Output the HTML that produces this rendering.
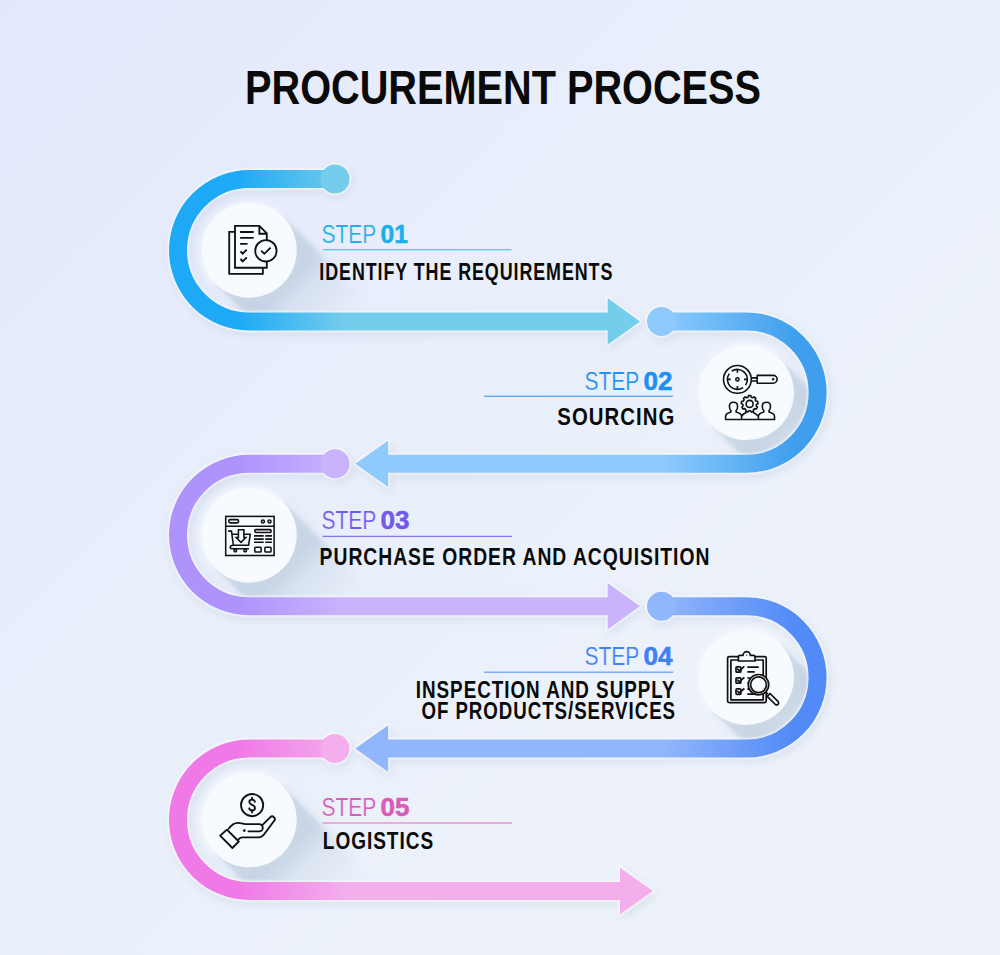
<!DOCTYPE html>
<html><head><meta charset="utf-8"><title>Procurement Process</title>
<style>html,body{margin:0;padding:0;width:1000px;height:955px;overflow:hidden;background:#e8eefb}
svg{display:block;font-family:"Liberation Sans",sans-serif}</style></head>
<body>
<svg width="1000" height="955" viewBox="0 0 1000 955"><defs><filter id="pds" x="-20%" y="-20%" width="140%" height="140%"><feGaussianBlur stdDeviation="4"/></filter><filter id="glow2" x="-20%" y="-20%" width="140%" height="140%"><feGaussianBlur stdDeviation="1"/></filter><filter id="blur1" x="-20%" y="-20%" width="140%" height="140%"><feGaussianBlur stdDeviation="0.8"/></filter><filter id="glow" x="-20%" y="-20%" width="140%" height="140%"><feGaussianBlur stdDeviation="2.5"/></filter><filter id="blur" x="-20%" y="-20%" width="140%" height="140%"><feGaussianBlur stdDeviation="4"/></filter><linearGradient id="bg" gradientUnits="userSpaceOnUse" x1="0" y1="0" x2="720" y2="720"><stop offset="0" stop-color="#e3e9fd"/><stop offset="0.6" stop-color="#e9effa"/><stop offset="1" stop-color="#edf2fa"/></linearGradient><linearGradient id="sh0_0" gradientUnits="userSpaceOnUse" x1="249.2" y1="250.2" x2="298.3" y2="299.3"><stop offset="0" stop-color="#afc2d7" stop-opacity="0.3"/><stop offset="0.683" stop-color="#afc2d7" stop-opacity="0.3"/><stop offset="1" stop-color="#afc2d7" stop-opacity="0"/></linearGradient><linearGradient id="sh0_1" gradientUnits="userSpaceOnUse" x1="249.2" y1="250.2" x2="332.3" y2="333.3"><stop offset="0" stop-color="#afc2d7" stop-opacity="0.42"/><stop offset="0.404" stop-color="#afc2d7" stop-opacity="0.42"/><stop offset="1" stop-color="#afc2d7" stop-opacity="0"/></linearGradient><clipPath id="cl0"><circle cx="249.2" cy="250.2" r="62.2"/><rect x="249.2" y="188.0" width="750.8" height="124.39999999999998"/></clipPath><linearGradient id="sh1_0" gradientUnits="userSpaceOnUse" x1="746.4" y1="392.6" x2="795.5" y2="441.7"><stop offset="0" stop-color="#afc2d7" stop-opacity="0.3"/><stop offset="0.683" stop-color="#afc2d7" stop-opacity="0.3"/><stop offset="1" stop-color="#afc2d7" stop-opacity="0"/></linearGradient><linearGradient id="sh1_1" gradientUnits="userSpaceOnUse" x1="746.4" y1="392.6" x2="829.5" y2="475.7"><stop offset="0" stop-color="#afc2d7" stop-opacity="0.42"/><stop offset="0.404" stop-color="#afc2d7" stop-opacity="0.42"/><stop offset="1" stop-color="#afc2d7" stop-opacity="0"/></linearGradient><clipPath id="cl1"><circle cx="746.4" cy="392.6" r="62.2"/><rect x="0" y="330.4" width="746.4" height="124.40000000000003"/></clipPath><linearGradient id="sh2_0" gradientUnits="userSpaceOnUse" x1="249.2" y1="535.0" x2="298.3" y2="584.1"><stop offset="0" stop-color="#afc2d7" stop-opacity="0.3"/><stop offset="0.683" stop-color="#afc2d7" stop-opacity="0.3"/><stop offset="1" stop-color="#afc2d7" stop-opacity="0"/></linearGradient><linearGradient id="sh2_1" gradientUnits="userSpaceOnUse" x1="249.2" y1="535.0" x2="332.3" y2="618.1"><stop offset="0" stop-color="#afc2d7" stop-opacity="0.42"/><stop offset="0.404" stop-color="#afc2d7" stop-opacity="0.42"/><stop offset="1" stop-color="#afc2d7" stop-opacity="0"/></linearGradient><clipPath id="cl2"><circle cx="249.2" cy="535.0" r="62.2"/><rect x="249.2" y="472.8" width="750.8" height="124.40000000000003"/></clipPath><linearGradient id="sh3_0" gradientUnits="userSpaceOnUse" x1="746.4" y1="677.4" x2="795.5" y2="726.5"><stop offset="0" stop-color="#afc2d7" stop-opacity="0.3"/><stop offset="0.683" stop-color="#afc2d7" stop-opacity="0.3"/><stop offset="1" stop-color="#afc2d7" stop-opacity="0"/></linearGradient><linearGradient id="sh3_1" gradientUnits="userSpaceOnUse" x1="746.4" y1="677.4" x2="829.5" y2="760.5"><stop offset="0" stop-color="#afc2d7" stop-opacity="0.42"/><stop offset="0.404" stop-color="#afc2d7" stop-opacity="0.42"/><stop offset="1" stop-color="#afc2d7" stop-opacity="0"/></linearGradient><clipPath id="cl3"><circle cx="746.4" cy="677.4000000000001" r="62.2"/><rect x="0" y="615.2" width="746.4" height="124.39999999999998"/></clipPath><linearGradient id="sh4_0" gradientUnits="userSpaceOnUse" x1="249.2" y1="819.8" x2="298.3" y2="868.9"><stop offset="0" stop-color="#afc2d7" stop-opacity="0.3"/><stop offset="0.683" stop-color="#afc2d7" stop-opacity="0.3"/><stop offset="1" stop-color="#afc2d7" stop-opacity="0"/></linearGradient><linearGradient id="sh4_1" gradientUnits="userSpaceOnUse" x1="249.2" y1="819.8" x2="332.3" y2="902.9"><stop offset="0" stop-color="#afc2d7" stop-opacity="0.42"/><stop offset="0.404" stop-color="#afc2d7" stop-opacity="0.42"/><stop offset="1" stop-color="#afc2d7" stop-opacity="0"/></linearGradient><clipPath id="cl4"><circle cx="249.2" cy="819.8" r="62.2"/><rect x="249.2" y="757.6" width="750.8" height="124.39999999999998"/></clipPath><linearGradient id="pg0" gradientUnits="userSpaceOnUse" x1="238" y1="0" x2="345" y2="0"><stop offset="0" stop-color="#1ea9f6"/><stop offset="1" stop-color="#74cdea"/></linearGradient><linearGradient id="pg1" gradientUnits="userSpaceOnUse" x1="795" y1="0" x2="662" y2="0"><stop offset="0" stop-color="#3f9fee"/><stop offset="1" stop-color="#8ecbfc"/></linearGradient><linearGradient id="pg2" gradientUnits="userSpaceOnUse" x1="238" y1="0" x2="345" y2="0"><stop offset="0" stop-color="#ae93fd"/><stop offset="1" stop-color="#c9b4fc"/></linearGradient><linearGradient id="pg3" gradientUnits="userSpaceOnUse" x1="795" y1="0" x2="662" y2="0"><stop offset="0" stop-color="#528af7"/><stop offset="1" stop-color="#92b6fb"/></linearGradient><linearGradient id="pg4" gradientUnits="userSpaceOnUse" x1="238" y1="0" x2="345" y2="0"><stop offset="0" stop-color="#ef79e7"/><stop offset="1" stop-color="#f3aeeb"/></linearGradient></defs>
<rect width="1000" height="955" fill="url(#bg)"/>
<circle cx="249.2" cy="250.2" r="49.5" fill="#fff" opacity="0.4" filter="url(#glow)"/>
<circle cx="746.4" cy="392.6" r="49.5" fill="#fff" opacity="0.4" filter="url(#glow)"/>
<circle cx="249.2" cy="535.0" r="49.5" fill="#fff" opacity="0.4" filter="url(#glow)"/>
<circle cx="746.4" cy="677.4000000000001" r="49.5" fill="#fff" opacity="0.4" filter="url(#glow)"/>
<circle cx="249.2" cy="819.8" r="49.5" fill="#fff" opacity="0.4" filter="url(#glow)"/>
<g clip-path="url(#cl0)"><path filter="url(#blur1)" d="M282.8,216.6 L402.8,336.6 L335.6,403.8 L215.6,283.8 Z" fill="url(#sh0_0)"/><path filter="url(#blur)" d="M282.8,216.6 L402.8,336.6 L335.6,403.8 L215.6,283.8 Z" fill="url(#sh0_1)"/></g>
<g clip-path="url(#cl1)"><path filter="url(#blur1)" d="M780.0,359.0 L900.0,479.0 L832.8,546.2 L712.8,426.2 Z" fill="url(#sh1_0)"/><path filter="url(#blur)" d="M780.0,359.0 L900.0,479.0 L832.8,546.2 L712.8,426.2 Z" fill="url(#sh1_1)"/></g>
<g clip-path="url(#cl2)"><path filter="url(#blur1)" d="M282.8,501.4 L402.8,621.4 L335.6,688.6 L215.6,568.6 Z" fill="url(#sh2_0)"/><path filter="url(#blur)" d="M282.8,501.4 L402.8,621.4 L335.6,688.6 L215.6,568.6 Z" fill="url(#sh2_1)"/></g>
<g clip-path="url(#cl3)"><path filter="url(#blur1)" d="M780.0,643.8 L900.0,763.8 L832.8,831.0 L712.8,711.0 Z" fill="url(#sh3_0)"/><path filter="url(#blur)" d="M780.0,643.8 L900.0,763.8 L832.8,831.0 L712.8,711.0 Z" fill="url(#sh3_1)"/></g>
<g clip-path="url(#cl4)"><path filter="url(#blur1)" d="M282.8,786.2 L402.8,906.2 L335.6,973.4 L215.6,853.4 Z" fill="url(#sh4_0)"/><path filter="url(#blur)" d="M282.8,786.2 L402.8,906.2 L335.6,973.4 L215.6,853.4 Z" fill="url(#sh4_1)"/></g>
<g filter="url(#pds)" opacity="0.22" transform="translate(2,3)"><path d="M335,179 H249.2 A71.2,71.2 0 0 0 249.2,321.4 H608.6" fill="none" stroke="#8c9fbd" stroke-width="21"/><circle cx="335" cy="179" r="16.0" fill="#8c9fbd"/><path d="M607.6,298.09999999999997 L640,321.4 L607.6,344.7 Z" fill="#8c9fbd" stroke="#8c9fbd" stroke-width="3" stroke-linejoin="round"/><path d="M661.5,321.4 H746.4 A71.2,71.2 0 0 1 746.4,463.8 H387.2" fill="none" stroke="#8c9fbd" stroke-width="21"/><circle cx="661.5" cy="321.4" r="16.0" fill="#8c9fbd"/><path d="M388.2,440.5 L355.2,463.8 L388.2,487.1 Z" fill="#8c9fbd" stroke="#8c9fbd" stroke-width="3" stroke-linejoin="round"/><path d="M335,463.8 H249.2 A71.2,71.2 0 0 0 249.2,606.2 H608.6" fill="none" stroke="#8c9fbd" stroke-width="21"/><circle cx="335" cy="463.8" r="16.0" fill="#8c9fbd"/><path d="M607.6,582.9000000000001 L640,606.2 L607.6,629.5 Z" fill="#8c9fbd" stroke="#8c9fbd" stroke-width="3" stroke-linejoin="round"/><path d="M661.5,606.2 H746.4 A71.2,71.2 0 0 1 746.4,748.6 H387.2" fill="none" stroke="#8c9fbd" stroke-width="21"/><circle cx="661.5" cy="606.2" r="16.0" fill="#8c9fbd"/><path d="M388.2,725.3000000000001 L355.2,748.6 L388.2,771.9 Z" fill="#8c9fbd" stroke="#8c9fbd" stroke-width="3" stroke-linejoin="round"/><path d="M335,748.6 H249.2 A71.2,71.2 0 0 0 249.2,891 H621" fill="none" stroke="#8c9fbd" stroke-width="21"/><circle cx="335" cy="748.6" r="16.0" fill="#8c9fbd"/><path d="M620,867.7 L653,891 L620,914.3 Z" fill="#8c9fbd" stroke="#8c9fbd" stroke-width="3" stroke-linejoin="round"/></g>
<g filter="url(#glow2)" opacity="0.75"><path d="M335,179 H249.2 A71.2,71.2 0 0 0 249.2,321.4 H608.6" fill="none" stroke="#fff" stroke-width="21"/><circle cx="335" cy="179" r="16.0" fill="#fff"/><path d="M607.6,298.09999999999997 L640,321.4 L607.6,344.7 Z" fill="#fff" stroke="#fff" stroke-width="3" stroke-linejoin="round"/><path d="M661.5,321.4 H746.4 A71.2,71.2 0 0 1 746.4,463.8 H387.2" fill="none" stroke="#fff" stroke-width="21"/><circle cx="661.5" cy="321.4" r="16.0" fill="#fff"/><path d="M388.2,440.5 L355.2,463.8 L388.2,487.1 Z" fill="#fff" stroke="#fff" stroke-width="3" stroke-linejoin="round"/><path d="M335,463.8 H249.2 A71.2,71.2 0 0 0 249.2,606.2 H608.6" fill="none" stroke="#fff" stroke-width="21"/><circle cx="335" cy="463.8" r="16.0" fill="#fff"/><path d="M607.6,582.9000000000001 L640,606.2 L607.6,629.5 Z" fill="#fff" stroke="#fff" stroke-width="3" stroke-linejoin="round"/><path d="M661.5,606.2 H746.4 A71.2,71.2 0 0 1 746.4,748.6 H387.2" fill="none" stroke="#fff" stroke-width="21"/><circle cx="661.5" cy="606.2" r="16.0" fill="#fff"/><path d="M388.2,725.3000000000001 L355.2,748.6 L388.2,771.9 Z" fill="#fff" stroke="#fff" stroke-width="3" stroke-linejoin="round"/><path d="M335,748.6 H249.2 A71.2,71.2 0 0 0 249.2,891 H621" fill="none" stroke="#fff" stroke-width="21"/><circle cx="335" cy="748.6" r="16.0" fill="#fff"/><path d="M620,867.7 L653,891 L620,914.3 Z" fill="#fff" stroke="#fff" stroke-width="3" stroke-linejoin="round"/></g>
<path d="M335,179 H249.2 A71.2,71.2 0 0 0 249.2,321.4 H608.6" fill="none" stroke="url(#pg0)" stroke-width="18"/>
<circle cx="335" cy="179" r="14.5" fill="#74cdea"/>
<path d="M607.6,298.09999999999997 L640,321.4 L607.6,344.7 Z" fill="#74cdea"/>
<path d="M661.5,321.4 H746.4 A71.2,71.2 0 0 1 746.4,463.8 H387.2" fill="none" stroke="url(#pg1)" stroke-width="18"/>
<circle cx="661.5" cy="321.4" r="14.5" fill="#8ecbfc"/>
<path d="M388.2,440.5 L355.2,463.8 L388.2,487.1 Z" fill="#8ecbfc"/>
<path d="M335,463.8 H249.2 A71.2,71.2 0 0 0 249.2,606.2 H608.6" fill="none" stroke="url(#pg2)" stroke-width="18"/>
<circle cx="335" cy="463.8" r="14.5" fill="#c9b4fc"/>
<path d="M607.6,582.9000000000001 L640,606.2 L607.6,629.5 Z" fill="#c9b4fc"/>
<path d="M661.5,606.2 H746.4 A71.2,71.2 0 0 1 746.4,748.6 H387.2" fill="none" stroke="url(#pg3)" stroke-width="18"/>
<circle cx="661.5" cy="606.2" r="14.5" fill="#92b6fb"/>
<path d="M388.2,725.3000000000001 L355.2,748.6 L388.2,771.9 Z" fill="#92b6fb"/>
<path d="M335,748.6 H249.2 A71.2,71.2 0 0 0 249.2,891 H621" fill="none" stroke="url(#pg4)" stroke-width="18"/>
<circle cx="335" cy="748.6" r="14.5" fill="#f3aeeb"/>
<path d="M620,867.7 L653,891 L620,914.3 Z" fill="#f3aeeb"/>
<circle cx="249.2" cy="250.2" r="47.5" fill="#f7fafe"/>
<circle cx="746.4" cy="392.6" r="47.5" fill="#f7fafe"/>
<circle cx="249.2" cy="535.0" r="47.5" fill="#f7fafe"/>
<circle cx="746.4" cy="677.4000000000001" r="47.5" fill="#f7fafe"/>
<circle cx="249.2" cy="819.8" r="47.5" fill="#f7fafe"/>
<g fill="none" stroke="#111" stroke-width="1.85" stroke-linejoin="miter">
<path d="M235,231.9 H229.2 V273.8 H262.85 V267.7"/>
<path d="M259.4,225.9 H235 V267.7 H266.8 V233.3 Z M259.35,225.9 V233.75 H266.8"/>
<path d="M240.1,232 H253.7 M240.1,237.9 H253.7 M240.1,243.9 H247.5"/>
<path d="M240.5,251.3 L242.7,253.7 L246.8,249.6 M240.5,259 L242.7,261.4 L246.8,257.3"/>
<circle cx="265.9" cy="250.8" r="10.7" fill="#f8fbfe"/>
<path d="M261.2,250.6 L264.3,253.8 L270.6,247.6"/>
</g>
<g fill="none" stroke="#111" stroke-width="1.6" stroke-linejoin="round" stroke-linecap="butt">
<circle cx="737.4" cy="379.4" r="13.9"/>
<path d="M731.66,371.21 A10,10 0 0 1 745.59,385.14 M743.14,387.59 A10,10 0 0 1 729.21,373.66"/>
<path d="M737.4,369.4 V372.8 M737.4,386 V389.4 M727.4,379.4 H730.8 M744,379.4 H747.4"/>
<circle cx="737.4" cy="379.4" r="1.6"/>
<path d="M751.3,377.9 H757.2 M751.3,381 H757.2"/>
<path d="M757.2,375.4 H773.2 A3.9,3.9 0 0 1 773.2,383.2 H757.2 Z"/>
<circle cx="773.2" cy="379.3" r="0.5" fill="#111"/>
<path d="M725.6,419.5 V416.4 C725.6,413.6 728.2,412.6 730.9,411.9 V410.6 C729.8,409.6 729.4,408 729.4,406.2 C729.4,403.8 731.2,402.2 733.5,402.2 C735.8,402.2 737.6,403.8 737.6,406.2 C737.6,408 737.2,409.6 736.1,410.6 V411.9 C738.8,412.6 741.6,413.6 741.6,416.4 V419.5"/>
<path d="M758.4,419.5 V416.4 C758.4,413.6 761.1,412.6 763.8,411.9 V410.6 C762.7,409.6 762.3,408 762.3,406.2 C762.3,403.8 764.1,402.2 766.4,402.2 C768.7,402.2 770.5,403.8 770.5,406.2 C770.5,408 770.1,409.6 769,410.6 V411.9 C771.7,412.6 774.5,413.6 774.5,416.4 V419.5"/>
<path d="M741.6,416.4 C742.5,414 744.5,413 746.6,412.2 M752.7,412.2 C754.8,413 756.8,414 758.4,416.4"/>
<path d="M748.10,397.18 L748.48,395.58 L750.82,395.58 L751.20,397.18 L752.78,397.75 L754.10,396.78 L755.89,398.28 L755.16,399.75 L756.00,401.20 L757.64,401.30 L758.04,403.61 L756.54,404.26 L756.25,405.92 L757.44,407.05 L756.27,409.07 L754.70,408.61 L753.41,409.69 L753.59,411.32 L751.40,412.12 L750.49,410.75 L748.81,410.75 L747.90,412.12 L745.71,411.32 L745.89,409.69 L744.60,408.61 L743.03,409.07 L741.86,407.05 L743.05,405.92 L742.76,404.26 L741.26,403.61 L741.66,401.30 L743.30,401.20 L744.14,399.75 L743.41,398.28 L745.20,396.78 L746.52,397.75 Z" fill="#f8fbfe"/>
<circle cx="749.65" cy="403.9" r="3.5"/>
<path d="M725,419.5 H775.2"/>
</g>
<g fill="none" stroke="#111" stroke-width="1.55" stroke-linejoin="miter">
<rect x="225.7" y="516.4" width="48.4" height="39.1"/>
<path d="M225.7,526.2 H274.1"/>
<rect x="228.7" y="519.6" width="9.9" height="3.25" rx="1.6"/>
<circle cx="262.9" cy="521.4" r="1.5"/><circle cx="269.5" cy="521.4" r="1.5"/>
<rect x="254.75" y="529.6" width="16.4" height="2.85" rx="1.4"/>
<path stroke-width="1.7" d="M254,535.9 H263.7 M265.25,535.9 H271.95 M254,539.1 H263.7 M265.25,539.1 H271.95 M254,542.25 H263.7 M265.25,542.25 H271.95"/>
<rect x="254.8" y="547.25" width="6.3" height="4.75" rx="0.8"/><rect x="264.9" y="547.25" width="6.1" height="4.75" rx="0.8"/>
<path d="M228.1,531.1 H231.5 L233.35,545.2 H248.6 L250.3,534.2 H232.1"/>
<path d="M233.35,545.2 C231.2,545.4 230.2,546.3 230.2,547.2 C230.2,548.2 231,548.75 232,548.75 H249"/>
<circle cx="235.3" cy="550.5" r="1.35"/><circle cx="245.2" cy="550.5" r="1.35"/>
<path d="M238.4,529.8 H243.9 V537.5 H245.8 L241,542.4 L236.2,537.5 H238.4 Z" fill="#f8fbfe"/>
</g>
<g fill="none" stroke="#111" stroke-width="1.7" stroke-linejoin="round">
<rect x="727.6" y="656.7" width="38.6" height="46" rx="1.6"/>
<rect x="730.9" y="660" width="32.3" height="39.8"/>
<path d="M738.4,661 V657 Q738.4,655.3 740.1,655.3 H743.1 A3.6,3.6 0 0 1 750.3,655.3 H753.3 Q755,655.3 755,657 V661 Z" fill="#f8fbfe"/>
<circle cx="746.7" cy="655.1" r="0.7" fill="#111" stroke="none"/>
<rect x="736" y="666.8" width="4.9" height="5.4" rx="1"/>
<rect x="736" y="677.8" width="4.9" height="5.4" rx="1"/>
<rect x="736" y="688.9" width="4.9" height="5.4" rx="1"/>
<path d="M737.3,668.6 L739.2,670.8 L744.4,666.4 M737.3,679.6 L739.2,681.8 L744.4,677.4 M737.3,690.7 L739.2,692.9 L744.4,688.5"/>
<path d="M747.3,667.1 H758.8 M747.3,671.9 H754.7 M747.3,678 H752 M747.3,683 H752 M747.3,689.2 H752 M747.3,694.2 H756"/>
<circle cx="758.5" cy="684.7" r="10.2" fill="#f8fbfe"/>
<circle cx="758.5" cy="684.7" r="7.9"/>
<path d="M765.6,691.8 L767.8,694"/>
<path d="M767.2,696.3 L770,693.5 L778.2,701.7 A2,2 0 0 1 775.4,704.5 Z"/>
</g>
<g fill="none" stroke="#111" stroke-width="1.85" stroke-linejoin="round" stroke-linecap="round">
<circle cx="252.1" cy="805.1" r="11.1"/>
<path d="M254.8,801.8 C254.5,800.4 253.4,799.6 252.1,799.6 C250.4,799.6 249.3,800.6 249.3,802 C249.3,805.2 255,804.4 255,807.9 C255,809.4 253.8,810.4 252.1,810.4 C250.6,810.4 249.5,809.6 249.2,808.3"/>
<path d="M252.1,797.6 V799.6 M252.1,810.4 V812.5"/>
<path d="M220.1,835.7 L226.9,829.6 L238.8,841.5 L232.4,848 Z"/>
<path d="M228.6,828.8 C231.2,825.2 234.4,822.8 237.6,822.8 C240.8,822.8 242.6,824.1 245.6,824.1 H259.2 A3.6,3.6 0 0 1 259.2,831.3 H248.4"/>
<path d="M262,825.4 L270.2,817.3 A2.6,2.6 0 0 1 274,821 L264.2,834.3 C262.8,836.2 260.8,837.4 258.4,837.4 H242.4 C240.8,837.4 239.6,838.2 238.4,839.4"/>
<circle cx="244.3" cy="830.6" r="0.5" fill="#111"/>
</g>
<text x="245" y="104.2" font-size="47.6" font-weight="bold" fill="#0a0a0a" text-anchor="start" textLength="516" lengthAdjust="spacingAndGlyphs">PROCUREMENT PROCESS</text>
<text x="321.5" y="243.4" font-size="25" fill="#1eaeea" stroke="url(#bg)" stroke-width="0.2" textLength="54.8" lengthAdjust="spacingAndGlyphs">STEP</text>
<text x="380.5" y="243.4" font-size="25" font-weight="bold" fill="#1eaeea" stroke="#1eaeea" stroke-width="0.5" textLength="27.4" lengthAdjust="spacingAndGlyphs">01</text>
<rect x="323" y="249.04999999999998" width="188.5" height="1.3" fill="#5cc5ef"/>
<text x="319.3" y="280.4" font-size="23.4" font-weight="bold" fill="#0a0a0a" text-anchor="start" textLength="294" lengthAdjust="spacingAndGlyphs" letter-spacing="1.2">IDENTIFY THE REQUIREMENTS</text>
<text x="584.5" y="389.8" font-size="25" fill="#1e8ff5" stroke="url(#bg)" stroke-width="0.2" textLength="54.8" lengthAdjust="spacingAndGlyphs">STEP</text>
<text x="643.5" y="389.8" font-size="25" font-weight="bold" fill="#1e8ff5" stroke="#1e8ff5" stroke-width="0.5" textLength="29" lengthAdjust="spacingAndGlyphs">02</text>
<rect x="484.2" y="395.65000000000003" width="188.59999999999997" height="1.3" fill="#4ea5f5"/>
<text x="557.3" y="424.7" font-size="23.4" font-weight="bold" fill="#0a0a0a" text-anchor="start" textLength="118" lengthAdjust="spacingAndGlyphs" letter-spacing="1.2">SOURCING</text>
<text x="321.5" y="529.3" font-size="25" fill="#7158f0" stroke="url(#bg)" stroke-width="0.2" textLength="54.8" lengthAdjust="spacingAndGlyphs">STEP</text>
<text x="380.5" y="529.3" font-size="25" font-weight="bold" fill="#7158f0" stroke="#7158f0" stroke-width="0.5" textLength="29" lengthAdjust="spacingAndGlyphs">03</text>
<rect x="322.5" y="535.75" width="189.5" height="1.3" fill="#8a75f5"/>
<text x="319.6" y="564.6" font-size="23.4" font-weight="bold" fill="#0a0a0a" text-anchor="start" textLength="390.8" lengthAdjust="spacingAndGlyphs" letter-spacing="1.2">PURCHASE ORDER AND ACQUISITION</text>
<text x="584.5" y="665" font-size="25" fill="#3e80f5" stroke="url(#bg)" stroke-width="0.2" textLength="54.8" lengthAdjust="spacingAndGlyphs">STEP</text>
<text x="643.5" y="665" font-size="25" font-weight="bold" fill="#3e80f5" stroke="#3e80f5" stroke-width="0.5" textLength="29" lengthAdjust="spacingAndGlyphs">04</text>
<rect x="484.2" y="671.5500000000001" width="189.00000000000006" height="1.3" fill="#6f9ff7"/>
<text x="415.8" y="697.6" font-size="23.4" font-weight="bold" fill="#0a0a0a" text-anchor="start" textLength="259.8" lengthAdjust="spacingAndGlyphs" letter-spacing="1.2">INSPECTION AND SUPPLY</text>
<text x="421.4" y="719.3" font-size="23.4" font-weight="bold" fill="#0a0a0a" text-anchor="start" textLength="254.6" lengthAdjust="spacingAndGlyphs" letter-spacing="1.2">OF PRODUCTS/SERVICES</text>
<text x="321.5" y="815.8" font-size="25" fill="#d95bb6" stroke="url(#bg)" stroke-width="0.2" textLength="54.8" lengthAdjust="spacingAndGlyphs">STEP</text>
<text x="380.5" y="815.8" font-size="25" font-weight="bold" fill="#d95bb6" stroke="#d95bb6" stroke-width="0.5" textLength="29" lengthAdjust="spacingAndGlyphs">05</text>
<rect x="322.5" y="822.35" width="189.5" height="1.3" fill="#e38acb"/>
<text x="322.8" y="849.4" font-size="23.4" font-weight="bold" fill="#0a0a0a" text-anchor="start" textLength="111.3" lengthAdjust="spacingAndGlyphs" letter-spacing="1.2">LOGISTICS</text>
</svg>
</body></html>
